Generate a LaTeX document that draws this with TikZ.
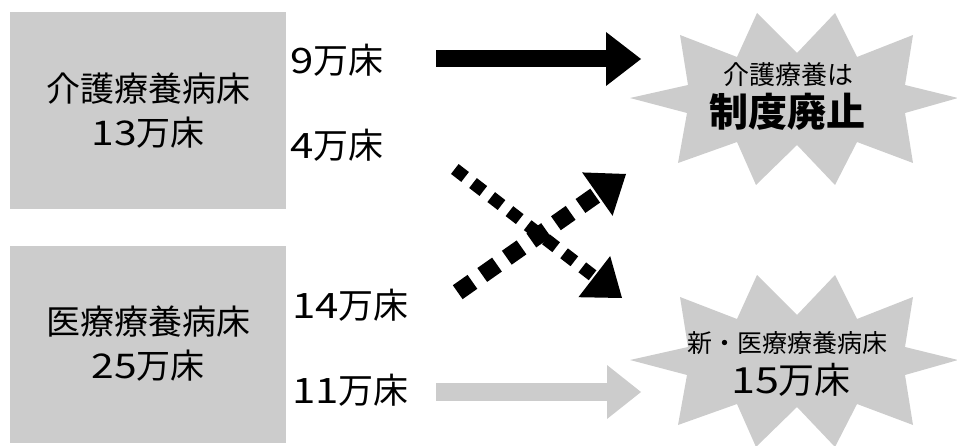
\documentclass[tikz,border=0pt]{standalone}
\usepackage{fontspec}
\setmainfont{Noto Sans CJK JP}
\newfontfamily\widedigits{Noto Sans CJK JP}[FakeStretch=1.2]
\newcommand{\dg}[1]{{\widedigits #1}}
\usetikzlibrary{calc}
\definecolor{boxgray}{HTML}{CCCCCC}
\begin{document}
\begin{tikzpicture}[x=1pt,y=-1pt,
  box/.style={fill=boxgray,minimum width=276pt,minimum height=197pt,inner sep=0pt,align=center,font=\fontsize{34}{44}\selectfont},
  lbl/.style={anchor=west,inner sep=0pt,font=\fontsize{35}{40}\selectfont},
  startxt/.style={inner sep=0pt,align=center}]
\useasboundingbox (0,0) rectangle (957,446);

% boxes
\node[box] (kaigo) at (148,110.5) {介護療養病床\\\dg{13}万床};
\node[box] (iryo) at (148,344) {医療療養病床\\\dg{25}万床};

% labels
\node[lbl] (l9) at (290,60) {\dg{9}万床};
\node[lbl] (l4) at (290,145) {\dg{4}万床};
\node[lbl] (l14) at (292,305) {\dg{14}万床};
\node[lbl] (l11) at (292,390) {\dg{11}万床};

% starbursts
\foreach \dy in {0,262}{
\begin{scope}[yshift=-\dy pt]
\fill[boxgray] (630,98) -- (688,85) -- (680,35) -- (737,57) -- (757,13) -- (797,53)
  -- (835,13) -- (857,57) -- (913,35) -- (905,85) -- (958,98) -- (905,113)
  -- (913,163) -- (857,142) -- (835,185) -- (797,145) -- (756,185) -- (737,142)
  -- (678,163) -- (687,113) -- cycle;
\end{scope}}

\node[startxt,font=\fontsize{26}{30}\selectfont] (s1a) at (788,75) {介護療養は};
\node[startxt,font=\fontsize{39}{44}\selectfont\bfseries] (s1b) at (787,112) {制度廃止};
\node[startxt,font=\fontsize{25}{30}\selectfont] (s2a) at (787,343) {新・医療療養病床};
\node[startxt,font=\fontsize{36}{44}\selectfont] (s2b) at (791,380) {\dg{15}万床};

% arrow end points
\coordinate (a1s) at (436,59);  \coordinate (a1t) at (641,59);
\coordinate (a2s) at (436,392); \coordinate (a2t) at (641,392);
\coordinate (a3s) at (457.7,292.2); \coordinate (a3t) at (626,174);
\coordinate (a4s) at (454.8,169); \coordinate (a4t) at (622,298);

% solid black arrow
\coordinate (a1b) at ($(a1t)!35pt!(a1s)$);
\draw[line width=17pt,black] (a1s) -- (a1b);
\fill[black] (a1t) -- ($(a1b)!27pt!90:(a1t)$) -- ($(a1b)!27pt!-90:(a1t)$) -- cycle;

% gray arrow
\coordinate (a2b) at ($(a2t)!34pt!(a2s)$);
\draw[line width=18pt,boxgray] (a2s) -- (a2b);
\fill[boxgray] (a2t) -- ($(a2b)!27pt!90:(a2t)$) -- ($(a2b)!27pt!-90:(a2t)$) -- cycle;

% dotted arrow up-right
\coordinate (a3b) at ($(a3t)!35pt!(a3s)$);
\draw[line width=17pt,dash pattern=on 18pt off 12pt] (a3s) -- (a3b);
\fill[black] (a3t) -- ($(a3b)!26.5pt!90:(a3t)$) -- ($(a3b)!26.5pt!-90:(a3t)$) -- cycle;

% dotted arrow down-right
\coordinate (a4b) at ($(a4t)!35pt!(a4s)$);
\draw[line width=12.5pt,dash pattern=on 13pt off 10pt] (a4s) -- (a4b);
\fill[black] (a4t) -- ($(a4b)!26pt!90:(a4t)$) -- ($(a4b)!26pt!-90:(a4t)$) -- cycle;
\end{tikzpicture}
\end{document}
